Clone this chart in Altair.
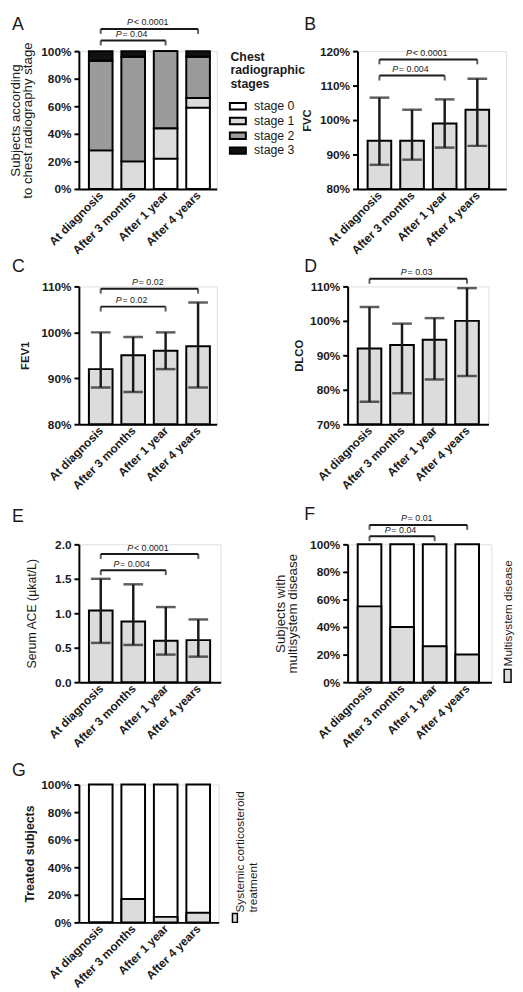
import json
import altair as alt
import pandas as pd

FONT = "Liberation Sans"
INK = "#1a1a1a"
BAR_GREY = "#dcdcdc"
NBSP = "\u00a0"

# ---------------- data ----------------
categories = ["At diagnosis", "After 3 months", "After 1 year", "After 4 years"]
positions = [0, 1, 2, 3]

# A: chest radiographic stages (% of subjects)
stage_names = ["stage 0", "stage 1", "stage 2", "stage 3"]
stage_colors = ["#ffffff", "#dcdcdc", "#9b9b9b", "#111111"]
stage0 = [0, 0, 22, 59]
stage1 = [28, 20, 22, 7]
stage2 = [65, 76, 56, 30]
stage3 = [7, 4, 0, 4]

# B: FVC (% predicted)
fvc_mean = [94, 94, 99, 103]
fvc_low = [87, 88.5, 92, 92.5]
fvc_high = [106.5, 103, 106, 112]

# C: FEV1
fev1_mean = [92, 95, 96, 97]
fev1_low = [88, 87, 92, 88]
fev1_high = [100, 99, 100, 106.5]

# D: DLCO
dlco_mean = [92, 93, 94.5, 100]
dlco_low = [76.5, 79, 83, 84]
dlco_high = [104, 99.2, 100.8, 109.5]

# E: serum ACE
ace_mean = [1.04, 0.88, 0.60, 0.61]
ace_low = [0.57, 0.54, 0.40, 0.37]
ace_high = [1.50, 1.42, 1.09, 0.91]

# F, G
multisystem = [55, 40, 26, 20]
treated = [0, 17, 4, 7]
full_bar = [100, 100, 100, 100]

# significance brackets: (from, to, level, operator, p)
brackets_A = [(0, 2, 107.7, "=", "0.04"), (0, 3, 116.1, "<", "0.0001")]
brackets_B = [(0, 2, 112.9, "=", "0.004"), (0, 3, 117.6, "<", "0.0001")]
brackets_C = [(0, 2, 105.6, "=", "0.02"), (0, 3, 109.5, "=", "0.02")]
brackets_D = [(0, 3, 112.2, "=", "0.03")]
brackets_E = [(0, 2, 1.625, "=", "0.004"), (0, 3, 1.86, "<", "0.0001")]
brackets_F = [(0, 2, 105.9, "=", "0.04"), (0, 3, 114.1, "=", "0.01")]

# ---------------- helpers ----------------
STEP = 35.5
FIRST = 18.5
PSIZE = 9
LABEL_EXPR = json.dumps(categories) + "[datum.value]"
CW = {"P": 0.667, " ": 0.278, NBSP: 0.278, "=": 0.584, "<": 0.584, ".": 0.278}


def text_w(s, size):
    return sum(CW.get(c, 0.556) for c in s) * size


def x_enc(field, width):
    return alt.X(
        f"{field}:Q",
        title=None,
        scale=alt.Scale(domain=[-FIRST / STEP, (width - FIRST) / STEP], nice=False, zero=False),
        axis=alt.Axis(
            values=positions, labelExpr=LABEL_EXPR, labelAngle=-45, labelAlign="right",
            labelBaseline="middle", labelPadding=4, labelFlush=False, labelOverlap=False,
            labelBound=False, ticks=False, grid=False, domainColor="black", domainWidth=2,
            labelFont=FONT, labelFontSize=12, labelFontWeight="bold", labelColor=INK, title=None,
        ),
    )


def y_enc(field, ys, stack=None):
    kw = {}
    if stack is not None:
        kw["stack"] = stack
    return alt.Y(
        f"{field}:Q",
        title=ys["title"],
        scale=alt.Scale(domain=ys["domain"], nice=False, zero=False),
        axis=alt.Axis(
            values=ys["values"], labelExpr=ys["labelExpr"], grid=False,
            domainColor="black", domainWidth=2, tickColor="black", tickWidth=2, tickSize=5,
            labelFont=FONT, labelFontSize=12, labelFontWeight="bold", labelColor=INK, labelPadding=3,
            title=ys["title"], titleFont=FONT, titleFontSize=ys["tsize"], titleFontWeight=ys["tweight"],
            titleColor=INK, titlePadding=ys["tpad"], titleLineHeight=12.5,
        ),
        **kw,
    )


def bracket_layers(brackets, width, ys):
    df = pd.DataFrame([{"i0": a, "i1": b, "level": lv} for a, b, lv, op, v in brackets])
    ends = pd.DataFrame(
        [{"i": a, "level": lv} for a, b, lv, op, v in brackets]
        + [{"i": b, "level": lv} for a, b, lv, op, v in brackets]
    )
    layers = [
        alt.Chart(df).mark_rule(color=INK, strokeWidth=2).encode(
            x=x_enc("i0", width), x2="i1:Q", y=y_enc("level", ys)
        ),
        alt.Chart(ends).mark_tick(orient="vertical", size=5, thickness=2, yOffset=2.5, color=INK).encode(
            x=x_enc("i", width), y=y_enc("level", ys)
        ),
    ]
    for a, b, lv, op, v in brackets:
        rest = f"{NBSP}{op}{NBSP}{v}"
        shift = (text_w("P", PSIZE) - text_w(rest, PSIZE)) / 2
        d = pd.DataFrame([{"mid": (a + b) / 2, "level": lv, "p": "P", "rest": rest}])
        common = dict(baseline="alphabetic", dy=-3.5, font=FONT, fontSize=PSIZE, color=INK)
        layers.append(
            alt.Chart(d).mark_text(align="right", fontStyle="italic", dx=shift - 0.8, **common).encode(
                x=x_enc("mid", width), y=y_enc("level", ys), text="p:N"
            )
        )
        layers.append(
            alt.Chart(d).mark_text(align="left", dx=shift, **common).encode(
                x=x_enc("mid", width), y=y_enc("level", ys), text="rest:N"
            )
        )
    return layers


def letter(text, dx, off):
    return alt.TitleParams(
        text=text, anchor="start", frame="group", dx=dx, offset=off, baseline="alphabetic",
        font=FONT, fontSize=18, fontWeight="normal", color=INK,
    )


def mean_panel(mean, low, high, width, ys, brackets, title):
    df = pd.DataFrame({"i": positions, "mean": mean, "low": low, "high": high})
    bars = alt.Chart(df).mark_bar(size=24, fill=BAR_GREY, stroke="black", strokeWidth=2).encode(
        x=x_enc("i", width), y=y_enc("mean", ys), y2=alt.datum(ys["domain"][0])
    )
    err = alt.Chart(df).mark_rule(color=INK, strokeWidth=2.5).encode(
        x=x_enc("i", width), y=y_enc("low", ys), y2="high:Q"
    )
    cap_lo = alt.Chart(df).mark_tick(orient="horizontal", size=20, thickness=2.5, color=INK).encode(
        x=x_enc("i", width), y=y_enc("low", ys)
    )
    cap_hi = alt.Chart(df).mark_tick(orient="horizontal", size=20, thickness=2.5, color=INK).encode(
        x=x_enc("i", width), y=y_enc("high", ys)
    )
    return alt.layer(bars, err, cap_lo, cap_hi, *bracket_layers(brackets, width, ys)).properties(
        width=width, height=140, title=title
    )


PCT = "datum.value + '%'"

# ---------------- panel A ----------------
WA = 140
ysA = dict(domain=[0, 100], values=[0, 20, 40, 60, 80, 100], labelExpr=PCT,
           title=["Subjects according", "to chest radiography stage"], tsize=13.5, tweight="normal", tpad=6)
stage_lists = [stage0, stage1, stage2, stage3]
rowsA = []
for k, name in enumerate(stage_names):
    for i in positions:
        rowsA.append({"i": i, "stage": name, "order": k, "value": stage_lists[k][i]})
dfA = pd.DataFrame(rowsA)
barsA = alt.Chart(dfA).mark_bar(size=24, stroke="black", strokeWidth=2).encode(
    x=x_enc("i", WA),
    y=y_enc("value", ysA, stack="zero"),
    color=alt.Color(
        "stage:N",
        scale=alt.Scale(domain=stage_names, range=stage_colors),
        legend=alt.Legend(
            title=["Chest", "radiographic", "stages"], orient="right", offset=14, padding=0,
            titleFont=FONT, titleFontSize=12.5, titleFontWeight="bold", titleColor=INK,
            titleLineHeight=13.5, titlePadding=9,
            labelFont=FONT, labelFontSize=12.5, labelColor=INK, labelOffset=9,
            symbolType="M-1.25,-0.5H1.25V0.5H-1.25Z", symbolSize=169,
            symbolStrokeColor="black", symbolStrokeWidth=2, rowPadding=0,
        ),
    ),
    order=alt.Order("order:Q"),
)
panelA = alt.layer(barsA, *bracket_layers(brackets_A, WA, ysA)).properties(
    width=WA, height=140, title=letter("A", -68, -30)
)

# ---------------- panel B ----------------
WB = 151
ysB = dict(domain=[80, 120], values=[80, 90, 100, 110, 120], labelExpr=PCT,
           title="FVC", tsize=11.5, tweight="bold", tpad=7)
panelB = mean_panel(fvc_mean, fvc_low, fvc_high, WB, ysB, brackets_B, letter("B", -54, -3))

# ---------------- panel C ----------------
WC = 140
ysC = dict(domain=[80, 110], values=[80, 90, 100, 110], labelExpr=PCT,
           title="FEV1", tsize=11.5, tweight="bold", tpad=10)
panelC = mean_panel(fev1_mean, fev1_low, fev1_high, WC, ysC, brackets_C, letter("C", -68, -12))

# ---------------- panel D ----------------
WD = 143
ysD = dict(domain=[70, 110], values=[70, 80, 90, 100, 110], labelExpr=PCT,
           title="DLCO", tsize=11.5, tweight="bold", tpad=5)
panelD = mean_panel(dlco_mean, dlco_low, dlco_high, WD, ysD, brackets_D, letter("D", -44, -22))

# ---------------- panel E ----------------
WE = 144
ysE = dict(domain=[0, 2], values=[0, 0.5, 1.0, 1.5, 2.0], labelExpr="format(datum.value, '.1f')",
           title="Serum ACE (\u00b5kat/L)", tsize=12.5, tweight="normal", tpad=16)
panelE = mean_panel(ace_mean, ace_low, ace_high, WE, ysE, brackets_E, letter("E", -68, -1))

# ---------------- panel F ----------------
WF = 146
ysF = dict(domain=[0, 100], values=[0, 20, 40, 60, 80, 100], labelExpr=PCT,
           title=["Subjects with", "multisystem disease"], tsize=13.5, tweight="normal", tpad=10)
dfF = pd.DataFrame({"i": positions, "total": full_bar, "value": multisystem})
whiteF = alt.Chart(dfF).mark_bar(size=24, fill="white", stroke="black", strokeWidth=2).encode(
    x=x_enc("i", WF), y=y_enc("total", ysF)
)
greyF = alt.Chart(dfF).mark_bar(size=24, fill=BAR_GREY, stroke="black", strokeWidth=2).encode(
    x=x_enc("i", WF), y=y_enc("value", ysF)
)
legF_box = alt.Chart(pd.DataFrame({"k": [0]})).mark_rect(fill=BAR_GREY, stroke="black", strokeWidth=1.5).encode(
    x=alt.value(159), x2=alt.value(166), y=alt.value(127), y2=alt.value(140)
)
legF_text = alt.Chart(pd.DataFrame({"label": ["Multisystem disease"]})).mark_text(
    angle=270, align="left", baseline="middle", font=FONT, fontSize=12, color=INK
).encode(x=alt.value(163), y=alt.value(124), text="label:N")
panelF = alt.layer(whiteF, greyF, *bracket_layers(brackets_F, WF, ysF), legF_box, legF_text).properties(
    width=WF, height=140, title=letter("F", -44, -24)
)

# ---------------- panel G ----------------
WG = 142
ysG = dict(domain=[0, 100], values=[0, 20, 40, 60, 80, 100], labelExpr=PCT,
           title="Treated subjects", tsize=12.5, tweight="bold", tpad=4)
dfG = pd.DataFrame({"i": positions, "total": full_bar, "value": treated})
whiteG = alt.Chart(dfG).mark_bar(size=24, fill="white", stroke="black", strokeWidth=2).encode(
    x=x_enc("i", WG), y=y_enc("total", ysG)
)
greyG = alt.Chart(dfG).mark_bar(size=24, fill=BAR_GREY, stroke="black", strokeWidth=2).encode(
    x=x_enc("i", WG), y=y_enc("value", ysG)
)
legG_box = alt.Chart(pd.DataFrame({"k": [0]})).mark_rect(fill=BAR_GREY, stroke="black", strokeWidth=1.5).encode(
    x=alt.value(156), x2=alt.value(161), y=alt.value(131), y2=alt.value(140)
)
legG_line1 = alt.Chart(pd.DataFrame({"label": ["Systemic corticosteroid"]})).mark_text(
    angle=270, align="left", baseline="middle", font=FONT, fontSize=12, color=INK
).encode(x=alt.value(164), y=alt.value(130), text="label:N")
legG_line2 = alt.Chart(pd.DataFrame({"label": ["treatment"]})).mark_text(
    angle=270, align="left", baseline="middle", font=FONT, fontSize=12, color=INK
).encode(x=alt.value(177), y=alt.value(130), text="label:N")
letterG = alt.Chart(pd.DataFrame({"label": ["G"]})).mark_text(
    align="left", baseline="alphabetic", font=FONT, fontSize=18, color=INK
).encode(x=alt.value(-68), y=alt.value(-9), text="label:N")
panelG = alt.layer(whiteG, greyG, legG_box, legG_line1, legG_line2, letterG).properties(
    width=WG, height=140
)

# ---------------- layout ----------------
row1 = alt.hconcat(panelA, panelB, spacing=283 - WA, bounds="flush").resolve_scale(
    color="independent"
).resolve_legend(color="independent")
row2 = alt.hconcat(panelC, panelD, spacing=273 - WC, bounds="flush")
row3 = alt.hconcat(panelE, panelF, spacing=273 - WE, bounds="flush")
row4 = alt.hconcat(panelG, bounds="flush")

top_block = alt.vconcat(row1, row2, spacing=1)
bottom_block = alt.vconcat(row3, row4, spacing=11)
chart = alt.vconcat(top_block, bottom_block, spacing=14).properties(padding=0).configure_view(
    stroke=None
).configure(background="white")

chart.save("out.html", embed_options={"renderer": "svg", "actions": False})
